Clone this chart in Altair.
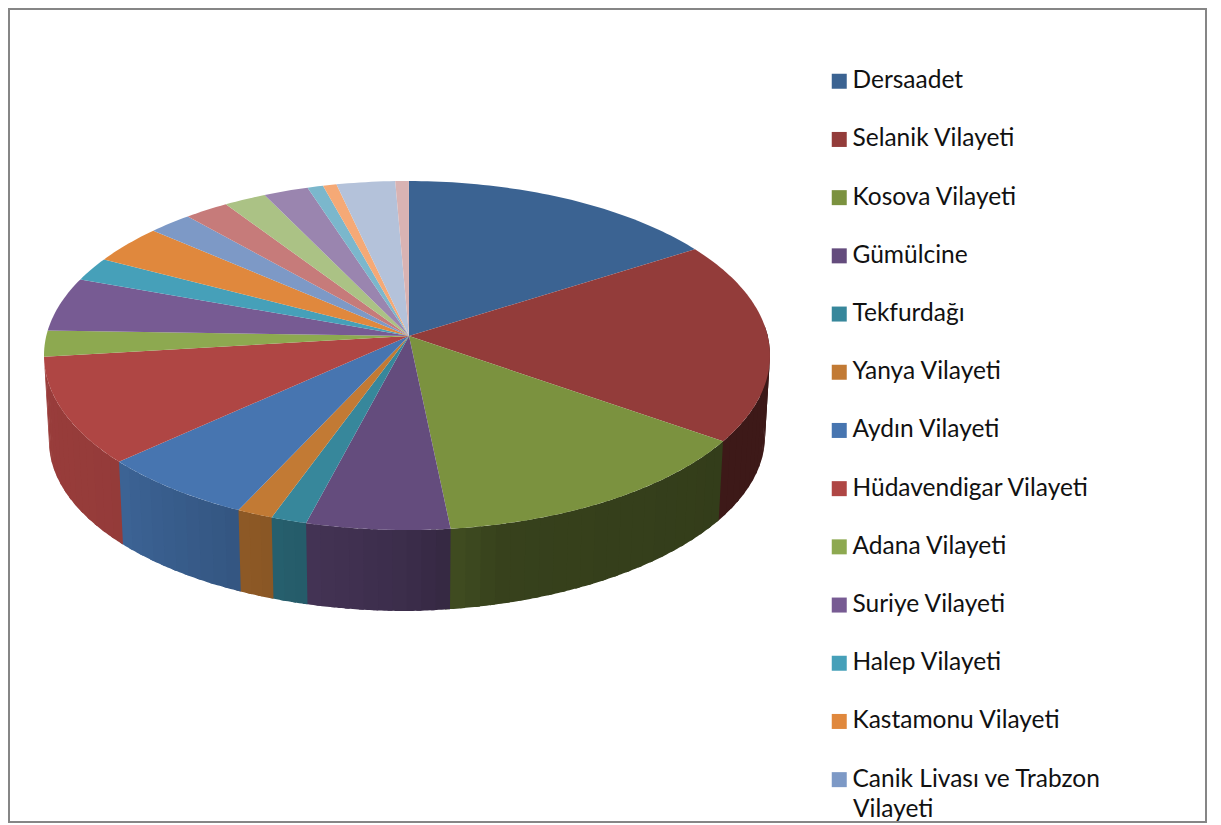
import math
import altair as alt

# Legend names (the reference legend is cut off after the 13th entry)
named = ["Dersaadet", "Selanik Vilayeti", "Kosova Vilayeti", "Gümülcine", "Tekfurdağı",
         "Yanya Vilayeti", "Aydın Vilayeti", "Hüdavendigar Vilayeti", "Adana Vilayeti",
         "Suriye Vilayeti", "Halep Vilayeti", "Kastamonu Vilayeti",
         "Canik Livası ve Trabzon Vilayeti"]
unnamed = ["Dilim 14", "Dilim 15", "Dilim 16", "Dilim 17", "Dilim 18", "Dilim 19", "Dilim 20"]
names = named + unnamed
# Slice shares in percent
shares = [14.5, 18.6, 14.9, 6.4, 1.6, 1.6, 6.9, 10.3, 2.4, 4.9, 2.1, 3.4,
          2.0, 2.0, 1.9, 2.0, 0.7, 0.6, 2.6, 0.6]
colors = ["#3B6392", "#933C3A", "#7B923F", "#644C7D", "#37879B", "#C27A34", "#4775B0",
          "#AF4644", "#8DA950", "#775B93", "#46A0B9", "#E0883D", "#7D99C6",
          "#C67B7A", "#ABC285", "#9A85AF", "#7BB7CC", "#F5A976", "#B4C2DA", "#D9B3B3"]

# Geometry of the tilted disc
TOP = dict(cx=407, cy=355.5, rx=363, ry=174.5, sag=0)
BOT = dict(cx=407, cy=441, rx=358, ry=170, sag=5)
APEX = (409, 336)
START = 0.3
OFF = 9
WALL_FROM = 80
WALL_SLICES = 8          # slices whose outer wall can be seen
SHADE = [(80, .42), (120, .42), (165, .45), (180, .6), (200, .7), (232, .85), (270, .88), (290, .88)]


def pt(e, t):
    r = math.radians(t)
    return [e["cx"] + e["rx"] * math.sin(r),
            e["cy"] - e["ry"] * math.cos(r) - e["sag"] * max(0, math.sin(r))]


def shade(t):
    for (a, fa), (b, fb) in zip(SHADE, SHADE[1:]):
        if a <= t <= b:
            return fa + (fb - fa) * (t - a) / (b - a)
    return SHADE[-1][1]


def darker(c, f):
    return "#%02x%02x%02x" % tuple(int(int(c[i:i + 2], 16) * f) for i in (1, 3, 5))


def steps(a, b, d):
    n = max(1, math.ceil((b - a) / d))
    return [a + (b - a) * i / n for i in range(n + 1)]


def feature(ring, **props):
    return {"type": "Feature", "properties": props,
            "geometry": {"type": "Polygon", "coordinates": [ring + [ring[0]]]}}


total = sum(shares)
tops, walls = [], []
t = START
for i, (name, share, col) in enumerate(zip(names, shares, colors)):
    t1 = t + share / total * 360
    tops.append(feature([list(APEX)] + [pt(TOP, a) for a in steps(t, t1, 1)], name=name))
    lo, hi = max(t, WALL_FROM), t1
    if i < WALL_SLICES and hi > lo:
        s = steps(lo, hi, 2.5)
        for a, b in zip(s, s[1:]):
            # each band runs a little under the next one, so no seam shows
            end = b + 0.8 if i < WALL_SLICES - 1 else min(b + 0.8, hi)
            sub = steps(a, end, 0.5)
            ring = [pt(TOP, x) for x in sub] + [pt(BOT, x) for x in reversed(sub)]
            walls.append(feature(ring, fill=darker(col, shade((a + b) / 2))))
    t = t1

proj = dict(type="identity", scale=1, translate=[-OFF, -OFF])

wall_layer = alt.Chart(alt.Data(values=walls)).mark_geoshape(strokeWidth=0).encode(
    color=alt.Color("properties.fill:N", scale=None, legend=None),
).project(**proj)

top_layer = alt.Chart(alt.Data(values=tops)).mark_geoshape(strokeWidth=0).encode(
    color=alt.Color("properties.name:N",
                    scale=alt.Scale(domain=names, range=colors),
                    legend=alt.Legend(
                        values=named, title=None, orient="none",
                        legendX=831 - OFF - 4, legendY=69 - OFF,
                        symbolType="square", symbolSize=225, symbolStrokeWidth=0,
                        labelFont="Lato", labelFontSize=24.5, labelColor="#111111",
                        labelOffset=1, labelLimit=400, rowPadding=33.2,
                        labelExpr="replace(datum.label, 'Trabzon Vilayeti', 'Trabzon')")),
).project(**proj)

wrapped = alt.Chart(alt.Data(values=[{"t": "Vilayeti"}])).mark_text(
    font="Lato", fontSize=24.5, color="#111111", align="left", baseline="middle"
).encode(x=alt.value(853 - OFF), y=alt.value(810 - OFF), text="t:N")

chart = alt.layer(wall_layer, top_layer, wrapped).resolve_scale(color="independent").properties(
    width=1197, height=813,
    padding={"left": 1, "top": 1, "right": 2, "bottom": 2},
    autosize=alt.AutoSizeParams(type="none"),
).configure_view(stroke="#868686", strokeWidth=2, fill="white")

chart.save("out.html", embed_options={"renderer": "svg", "actions": False})
